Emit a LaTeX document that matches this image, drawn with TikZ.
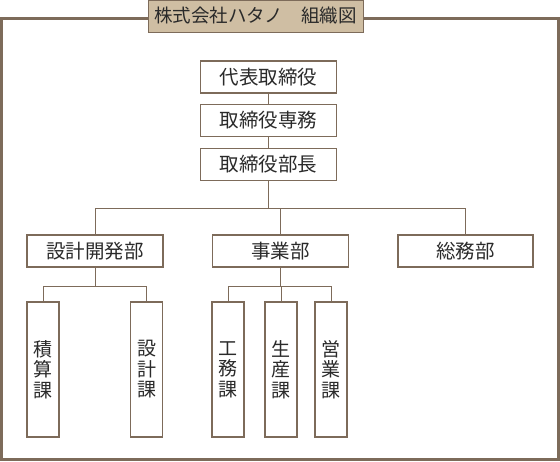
\documentclass[tikz,border=0pt]{standalone}
\usepackage{fontspec}
\newfontfamily\jp{Noto Sans CJK JP}
\definecolor{frame}{HTML}{7D6B5A}
\definecolor{titlefill}{HTML}{CFBEA3}
\definecolor{ink}{HTML}{2A2A2A}
\begin{document}
\begin{tikzpicture}[x=1pt,y=-1pt,
  box/.style={draw=frame,line width=1.1pt,fill=white,text=ink,inner sep=0pt,
    minimum width=136pt,minimum height=32pt,font=\jp\fontsize{19.5}{20}\selectfont},
  vbox/.style={draw=frame,line width=1.1pt,fill=white,text=ink,inner sep=0pt,
    minimum width=32pt,minimum height=135pt,align=center,font=\jp\fontsize{19}{20.5}\selectfont},
  conn/.style={draw=frame,line width=0.9pt}]
\useasboundingbox (0,0) rectangle (560,461);
% outer frame
\draw[frame,line width=3pt] (1.5,18.5) rectangle (558.5,459.5);
% title
\node[draw=frame,line width=1pt,fill=titlefill,text=ink,inner sep=0pt,
  minimum width=215pt,minimum height=32pt,font=\jp\fontsize{18.5}{19}\selectfont]
  (title) at (255.5,16) {株式会社ハタノ　組織図};
% top chain
\node[box] (ceo) at (268.5,77) {代表取締役};
\node[box] (senmu) at (268.5,120.5) {取締役専務};
\node[box] (bucho) at (268.5,164.5) {取締役部長};
% departments
\node[box] (kaihatsu) at (95,251) {設計開発部};
\node[box] (jigyo) at (280.5,251) {事業部};
\node[box,minimum width=135pt] (soumu) at (465.5,251) {総務部};
% sections
\node[vbox] (sekisan) at (43,369.5) {積\\算\\課};
\node[vbox] (sekkeika) at (146.5,369.5) {設\\計\\課};
\node[vbox] (koumu) at (228,369.5) {工\\務\\課};
\node[vbox] (seisan) at (281,369.5) {生\\産\\課};
\node[vbox] (eigyo) at (331,369.5) {営\\業\\課};
% bus coordinates
\coordinate (bus1) at (0,208);
\coordinate (bus2) at (0,286);
% connectors
\draw[conn] (ceo) -- (senmu);
\draw[conn] (senmu) -- (bucho);
\draw[conn] (bucho.south) -- (bucho.south |- bus1);
\draw[conn] (kaihatsu.north) -- (kaihatsu.north |- bus1) -- (soumu.north |- bus1) -- (soumu.north);
\draw[conn] (jigyo.north) -- (jigyo.north |- bus1);
\draw[conn] (kaihatsu.south) -- (kaihatsu.south |- bus2);
\draw[conn] (sekisan.north) -- (sekisan.north |- bus2) -- (sekkeika.north |- bus2) -- (sekkeika.north);
\draw[conn] (jigyo.south) -- (jigyo.south |- bus2);
\draw[conn] (koumu.north) -- (koumu.north |- bus2) -- (eigyo.north |- bus2) -- (eigyo.north);
\draw[conn] (seisan.north) -- (seisan.north |- bus2);
\end{tikzpicture}
\end{document}
